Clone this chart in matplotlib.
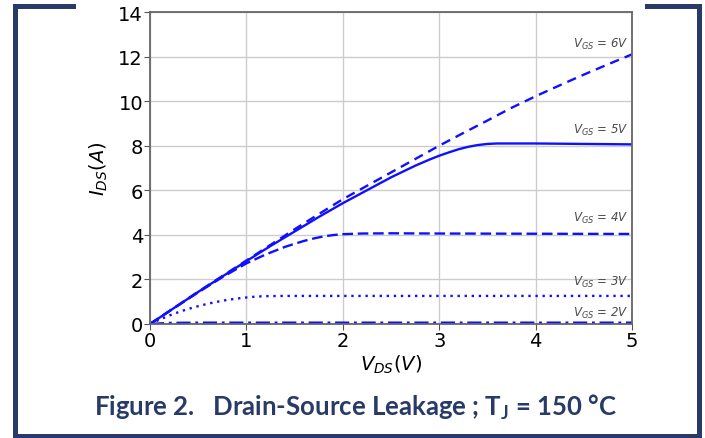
import matplotlib
matplotlib.use("Agg")
import matplotlib.pyplot as plt
from matplotlib.patches import Rectangle

plt.rcParams['mathtext.fontset'] = 'custom'
plt.rcParams['mathtext.rm'] = 'DejaVu Sans'
plt.rcParams['mathtext.it'] = 'DejaVu Sans:italic'
plt.rcParams['mathtext.bf'] = 'Lato:bold'

# Drain-source voltage samples (V) and drain current (A) per gate voltage
vds_6v = [0, 0.25, 0.5, 0.75, 1.0, 1.25, 1.5, 1.75, 2.0, 2.25, 2.5, 2.75,
          3.0, 3.25, 3.5, 3.75, 4.0, 4.25, 4.5, 4.75, 5.0]
ids_6v = [0, 0.72, 1.45, 2.15, 2.85, 3.55, 4.25, 4.93, 5.6, 6.2, 6.8, 7.4,
          8.0, 8.57, 9.13, 9.7, 10.22, 10.71, 11.19, 11.65, 12.1]

vds_5v = [0, 0.25, 0.5, 0.75, 1.0, 1.25, 1.5, 1.75, 2.0, 2.25, 2.5, 2.75,
          2.9, 3.0, 3.1, 3.2, 3.3, 3.4, 3.5, 3.6, 3.75, 4.0, 4.5, 5.0]
ids_5v = [0, 0.72, 1.44, 2.13, 2.82, 3.5, 4.15, 4.8, 5.42, 6.0, 6.58, 7.1,
          7.38, 7.55, 7.7, 7.84, 7.95, 8.03, 8.08, 8.1, 8.1, 8.1, 8.08, 8.06]

vds_4v = [0, 0.25, 0.5, 0.75, 1.0, 1.2, 1.4, 1.5, 1.6, 1.7, 1.8, 1.9, 2.0,
          2.2, 2.5, 3.0, 4.0, 5.0]
ids_4v = [0, 0.72, 1.42, 2.1, 2.72, 3.12, 3.46, 3.6, 3.73, 3.84, 3.93, 3.99,
          4.03, 4.06, 4.07, 4.06, 4.05, 4.04]

vds_3v = [0, 0.1, 0.2, 0.3, 0.4, 0.5, 0.6, 0.7, 0.8, 0.9, 1.0, 1.1, 1.2,
          1.4, 2.0, 5.0]
ids_3v = [0, 0.2, 0.38, 0.54, 0.68, 0.8, 0.91, 1.0, 1.08, 1.14, 1.19, 1.23,
          1.25, 1.26, 1.26, 1.26]

vds_2v = [0, 0.2, 0.5, 5.0]
ids_2v = [0, 0.05, 0.06, 0.06]

curve_labels = ["6V", "5V", "4V", "3V", "2V"]
label_y = [12.6, 8.75, 4.8, 1.9, 0.5]

xticks = [0, 1, 2, 3, 4, 5]
yticks = [0, 2, 4, 6, 8, 10, 12, 14]

navy = '#283a68'

fig = plt.figure(figsize=(7.05, 4.39), dpi=100)
ax = fig.add_axes([150/705, 1 - 325/439, 482/705, 312/439])

blue = '#1010ff'
lw = 1.7
ax.plot(vds_6v, ids_6v, color=blue, lw=lw, linestyle=(0, (4, 2.6)))
ax.plot(vds_5v, ids_5v, color=blue, lw=lw, linestyle='-')
ax.plot(vds_4v, ids_4v, color=blue, lw=lw, linestyle=(0, (4.5, 2)))
ax.plot(vds_3v, ids_3v, color=blue, lw=lw, linestyle=(0, (1, 2)))
ax.plot(vds_2v, ids_2v, color=blue, lw=lw, linestyle=(0, (6, 2, 1.2, 2)))

for lab, y in zip(curve_labels, label_y):
    ax.text(4.96, y, r"$V_{GS}$ = " + lab, ha='right', va='center',
            fontsize=8.5, color='#4a4a4a', style='italic')

ax.set_xlim(0, 5)
ax.set_ylim(0, 14)
ax.set_xticks(xticks)
ax.set_yticks(yticks)
ax.tick_params(labelsize=14, length=4, color='#555555', pad=1)
ax.grid(True, color='#cccccc', lw=1)
ax.set_axisbelow(True)
for s in ax.spines.values():
    s.set_color('#666666')
    s.set_linewidth(1.3)

ax.set_xlabel(r"$V_{DS}(V)$", fontsize=14, labelpad=2)
ax.set_ylabel(r"$I_{DS}(A)$", fontsize=14, labelpad=6)

fig.text(356/705, 1 - 407/439,
         r"Figure 2.   Drain-Source Leakage ; T$_{\mathbf{J}}$ = 150 °C",
         ha='center', va='center', fontsize=18.5, fontweight='bold',
         color=navy, family='Lato')

# Decorative frame
def bar(x0, y0, x1, y1):
    fig.patches.append(Rectangle((x0/705, 1 - y1/439), (x1 - x0)/705,
                                 (y1 - y0)/439, transform=fig.transFigure,
                                 color=navy, lw=0))

bar(13, 5, 18, 439)
bar(13, 5, 76, 10)
bar(645, 5, 702, 10)
bar(697, 5, 702, 439)
bar(13, 435, 702, 439)

fig.savefig("out.png", dpi=100)
